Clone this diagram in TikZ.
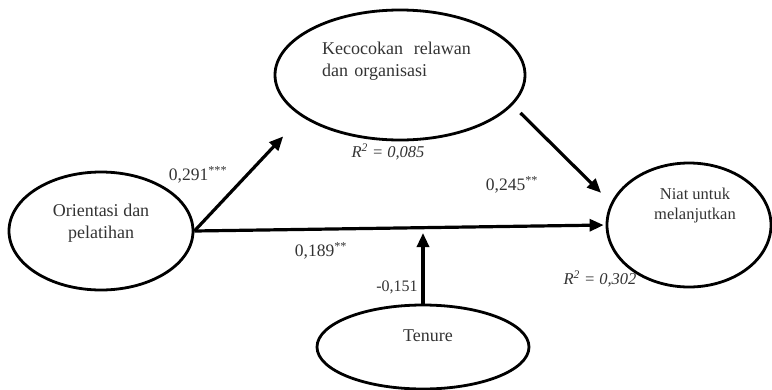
\documentclass[tikz,border=0pt]{standalone}
\usepackage{fontspec}
\setmainfont{Liberation Serif}
\usetikzlibrary{shapes.geometric,arrows.meta}

\begin{document}
\begin{tikzpicture}[x=1pt, y=-1pt,
    latent/.style={ellipse, draw, line width=2.8pt, inner sep=0pt},
    path/.style={line width=3.2pt, -{Triangle[length=14pt,width=12pt]}},
    txt/.style={text=black!80, inner sep=0pt, font=\fontsize{18}{22}\selectfont},
    coef/.style={text=black!80, inner sep=0pt, font=\fontsize{17.5}{20}\selectfont},
    rsq/.style={text=black!80, inner sep=0pt, font=\fontsize{16.5}{20}\selectfont\itshape}]
  \useasboundingbox (0,0) rectangle (772,389);

  % latent variables
  \node[latent, minimum width=184pt, minimum height=118pt] (orient) at (101,231) {};
  \node[latent, minimum width=250pt, minimum height=130pt] (kec) at (400,75) {};
  \node[latent, minimum width=164pt, minimum height=124pt] (niat) at (689,225) {};
  \node[latent, minimum width=212pt, minimum height=84pt] (tenure) at (423,347) {};

  % variable names
  \node[txt, align=center] (orienttxt) at (101,223) {Orientasi dan\\pelatihan};
  \node[txt, align=left, anchor=west] (kectxt) at (322,61)
    {Kecocokan\hspace{0.6em}relawan\\dan\hspace{0.35em}organisasi};
  \node[txt, align=center, font=\fontsize{16.5}{20}\selectfont] (niattxt) at (695,206)
    {Niat untuk\\melanjutkan};
  \node[txt] (tenuretxt) at (428,336) {Tenure};

  % paths
  \coordinate (hit) at (423,233);
  \draw[path, shorten >=27pt] (orient.east) -- (kec.203);
  \draw[path, shorten <=11pt, shorten >=14pt] (kec.-15) -- (niat.164);
  \draw[path, shorten >=2pt] (orient.east) -- (niat.west);
  \draw[path] (tenure.north) -- (hit);

  % path coefficients
  \node[coef] (c1) at (198,175) {0,291\textsuperscript{***}};
  \node[coef] (c2) at (512,185) {0,245\textsuperscript{**}};
  \node[coef] (c3) at (321,251) {0,189\textsuperscript{**}};
  \node[coef, font=\fontsize{16}{20}\selectfont] (c4) at (397,287) {-0,151};

  % explained variance
  \node[rsq] (r1) at (388,152) {R\textsuperscript{2} = 0,085};
  \node[rsq] (r2) at (600,279) {R\textsuperscript{2} = 0,302};
\end{tikzpicture}
\end{document}
